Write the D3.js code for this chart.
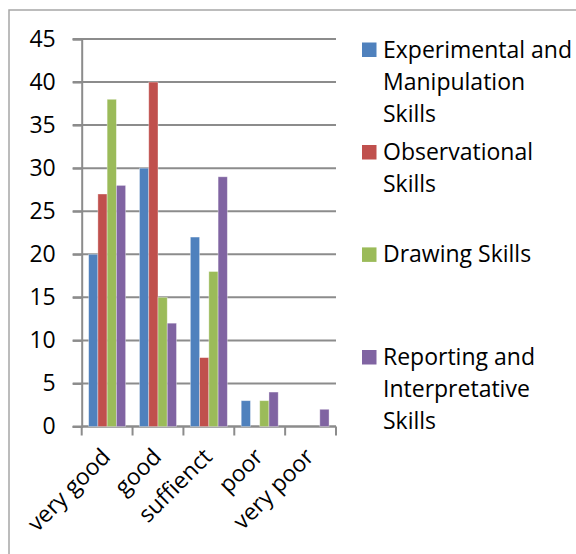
<!DOCTYPE html>
<html>
<head>
<meta charset="utf-8">
<script src="https://cdn.jsdelivr.net/npm/d3@7"></script>
<style>
  html, body { margin: 0; padding: 0; background: #fff; }
  svg { display: block; font-family: "Open Sans", Lato, sans-serif; }
</style>
</head>
<body>
<svg id="chart" width="576" height="554"></svg>
<script>
const categories = ["very good", "good", "suffienct", "poor", "very poor"];
const seriesNames = [
  ["Experimental and", "Manipulation", "Skills"],
  ["Observational", "Skills"],
  ["Drawing Skills"],
  ["Reporting and", "Interpretative", "Skills"]
];
const experimental = [20, 30, 22, 3, 0];
const observational = [27, 40, 8, 0, 0];
const drawing = [38, 15, 18, 3, 0];
const reporting = [28, 12, 29, 4, 2];
const yTicks = [0, 5, 10, 15, 20, 25, 30, 35, 40, 45];
const colors = ["#4F81BD", "#C0504D", "#9BBB59", "#8064A2"];

const series = [experimental, observational, drawing, reporting];
const svg = d3.select("#chart");
const fontSize = 23;
const fontFam = "'Open Sans', Lato, sans-serif";

// outer frame
svg.append("rect").attr("x", 9).attr("y", 10).attr("width", 600).attr("height", 600)
  .attr("fill", "none").attr("stroke", "#a6a6a6").attr("stroke-width", 1.5);

const plotLeft = 81.7, plotRight = 336, plotTop = 39, plotBottom = 426.5;
const x = d3.scaleBand().domain(categories).range([plotLeft, plotRight]).paddingInner(0).paddingOuter(0);
const x1 = d3.scaleBand().domain(d3.range(series.length)).range([0, x.bandwidth()]).paddingInner(0).paddingOuter(0.75);
const y = d3.scaleLinear().domain([0, 45]).range([plotBottom, plotTop]);

// gridlines
svg.append("g").selectAll("line").data(yTicks).join("line")
  .attr("x1", plotLeft - 9).attr("x2", plotRight)
  .attr("y1", d => y(d)).attr("y2", d => y(d))
  .attr("stroke", "#8c8c8c").attr("stroke-width", 2);

// y axis
const yAxis = svg.append("g").attr("transform", `translate(${plotLeft},0)`)
  .call(d3.axisLeft(y).tickValues(yTicks).tickSize(9).tickPadding(17).tickFormat(d3.format("d")));
yAxis.select(".domain").attr("stroke", "#8c8c8c").attr("stroke-width", 2);
yAxis.selectAll(".tick line").attr("stroke", "#8c8c8c").attr("stroke-width", 2);
yAxis.selectAll(".tick text").attr("fill", "#000").style("font-size", fontSize + "px")
  .style("font-family", fontFam);

// x axis
const xAxisG = svg.append("g").attr("transform", `translate(0,${plotBottom})`);
xAxisG.append("line").attr("x1", plotLeft).attr("x2", plotRight).attr("y1", 0).attr("y2", 0)
  .attr("stroke", "#8c8c8c").attr("stroke-width", 2);
const tickPos = categories.map(c => x(c)).concat([plotRight]);
xAxisG.selectAll("line.t").data(tickPos).join("line").attr("class", "t")
  .attr("x1", d => d).attr("x2", d => d).attr("y1", 0).attr("y2", 9)
  .attr("stroke", "#8c8c8c").attr("stroke-width", 2);

// bars
const groups = svg.append("g").selectAll("g").data(series).join("g")
  .attr("fill", (d, i) => colors[i]);
groups.each(function(vals, si) {
  d3.select(this).selectAll("rect").data(vals.map((v, ci) => ({v, c: categories[ci]})).filter(d => d.v > 0))
    .join("rect")
    .attr("x", d => x(d.c) + x1(si))
    .attr("width", x1.bandwidth())
    .attr("y", d => y(d.v))
    .attr("height", d => y(0) - y(d.v))
    .attr("stroke", "rgba(255,255,255,0.45)").attr("stroke-width", 0.8);
});

// x labels rotated
svg.append("g").selectAll("text").data(categories).join("text")
  .attr("transform", d => `translate(${x(d) + x.bandwidth() / 2 - 1},${plotBottom + 26}) rotate(-45)`)
  .attr("text-anchor", "end")
  .attr("dy", "0.35em")
  .style("font-size", fontSize + "px")
  .style("font-family", fontFam)
  .attr("fill", "#000")
  .text(d => d);

// legend
const legendFirstLines = [49.5, 152, 254.4, 357];
const lineH = 32;
const leg = svg.append("g");
seriesNames.forEach((lines, i) => {
  const g = leg.append("g");
  g.append("rect").attr("x", 362).attr("y", legendFirstLines[i] - 7).attr("width", 14.5).attr("height", 14.5)
    .attr("fill", colors[i]);
  g.selectAll("text").data(lines).join("text")
    .attr("x", 383).attr("y", (d, j) => legendFirstLines[i] + j * lineH)
    .attr("dy", "0.35em")
    .style("font-size", fontSize + "px")
    .style("font-family", fontFam)
    .attr("fill", "#000")
    .text(d => d);
});
</script>
</body>
</html>
